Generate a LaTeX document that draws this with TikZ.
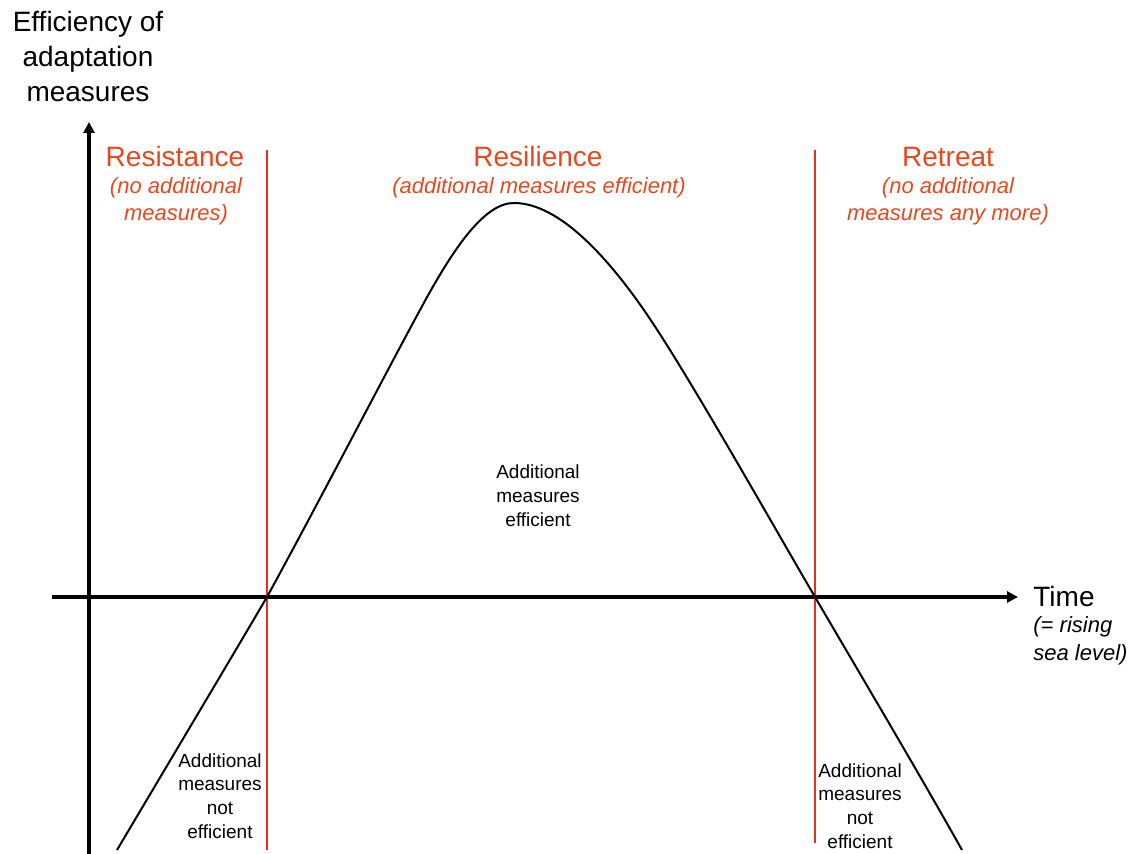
\documentclass[tikz,border=0pt]{standalone}
\usepackage{fontspec}
\setmainfont{Liberation Sans}
\usetikzlibrary{arrows.meta}
\definecolor{accent}{RGB}{232,72,30}
\definecolor{redline}{RGB}{228,48,28}
\tikzset{
  axis/.style={line width=2pt, -{Triangle[length=5.5pt,width=5.5pt]}},
  sep/.style={redline, line width=1pt},
  curveline/.style={black, line width=1pt},
  big/.style={font=\fontsize{14}{17.5}\selectfont, inner sep=0pt, align=center},
  head/.style={accent, font=\fontsize{14}{17}\selectfont, inner sep=0pt},
  sub/.style={accent, font=\fontsize{11}{13.5}\selectfont\itshape, inner sep=0pt, align=center},
  small/.style={font=\fontsize{9.5}{11.8}\selectfont, inner sep=0pt, align=center},
}
\begin{document}
\begin{tikzpicture}[x=0.5pt,y=-0.5pt]
\useasboundingbox[fill=white] (0,0) rectangle (1138,854);

% axes
\coordinate (yb) at (89,854);
\coordinate (yt) at (89,122);
\coordinate (xl) at (52,597);
\coordinate (xr) at (1018,597);
\draw[axis] (yb) -- (yt);
\draw[axis] (xl) -- (xr);

% separators
\coordinate (s1t) at (267,150);
\coordinate (s1b) at (267,850);
\coordinate (s2t) at (815,150);
\coordinate (s2b) at (815,843);
\draw[sep] (s1t) -- (s1b);
\draw[sep] (s2t) -- (s2b);

% curve
\coordinate (c0) at (117,850);
\coordinate (c1) at (267,597);
\coordinate (c2) at (420,310);
\coordinate (peak) at (514,203);
\coordinate (c4) at (648,316);
\coordinate (c5) at (815,597);
\coordinate (c6) at (962,850);
\draw[curveline]
  (c0) .. controls (190,727) and (230,660) .. (c1)
       .. controls (320,500) and (382,380) .. (c2)
       .. controls (455,245) and (485,203) .. (peak)
       .. controls (560,203) and (610,260) .. (c4)
       .. controls (690,378) and (770,520) .. (c5)
       .. controls (860,674) and (920,775) .. (c6);

% texts
\node[big, anchor=base] (ylab) at (88,102) {Efficiency of\\adaptation\\measures};
\node[head, anchor=base] (res) at (175,167) {Resistance};
\node[sub, anchor=base] (ressub) at (176,221) {(no additional\\measures)};
\node[head, anchor=base] (resil) at (538,167) {Resilience};
\node[sub, anchor=base] (resilsub) at (539,194) {(additional measures efficient)};
\node[head, anchor=base] (retr) at (948,167) {Retreat};
\node[sub, anchor=base] (retrsub) at (948,221) {(no additional\\measures any more)};
\node[big, anchor=base west] (time) at (1033,606) {Time};
\node[font=\fontsize{11}{14}\selectfont\itshape, inner sep=0pt, align=left, anchor=base west] (timesub) at (1033,660) {(= rising\\sea level)};
\node[small, anchor=base] (eff) at (538,526) {Additional\\measures\\efficient};
\node[small, anchor=base] (neff1) at (220,838) {Additional\\measures\\not\\efficient};
\node[small, anchor=base] (neff2) at (860,848) {Additional\\measures\\not\\efficient};
\end{tikzpicture}
\end{document}
